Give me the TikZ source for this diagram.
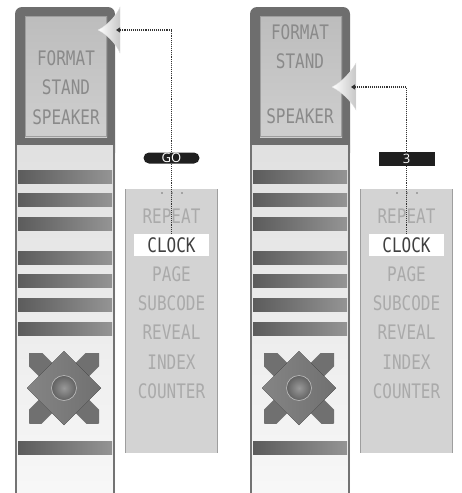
\documentclass[tikz,border=0pt]{standalone}
\usepackage{fontspec}
\usetikzlibrary{positioning, arrows.meta, calc}
\newfontfamily\lcdfont[FakeStretch=0.8]{DejaVu Sans Mono}
\newfontfamily\tagfont{Open Sans}
\definecolor{bezel}{HTML}{6E6E6E}
\definecolor{menubg}{HTML}{D3D3D3}
\definecolor{lcdtext}{HTML}{8A8A8A}
\definecolor{itemtext}{HTML}{AAAAAA}

\begin{document}
\begin{tikzpicture}[x=1pt, y=-1pt,
      lcd/.style={font=\lcdfont\fontsize{20pt}{20pt}\selectfont, text=lcdtext, inner sep=0pt, text height=15pt, text depth=0pt},
      item/.style={lcd, text=itemtext, minimum height=22pt},
      hilite/.style={fill=white, text=black!75, minimum width=75pt},
      bar/.style={left color=black!64, right color=black!42},
      callout/.style={left color=white, right color=black!22, draw=black!12, line width=0.3pt},
      link/.style={densely dotted, line width=1.1pt, black!80, -{Triangle[length=4pt, width=5pt]}},
      tag/.style={fill=black!88, text=white, font=\tagfont\fontsize{13pt}{13pt}\selectfont, inner sep=0pt, minimum width=56pt, minimum height=12pt}]
    \useasboundingbox (0,0) rectangle (462,493);
    \foreach \p/\dx in {L/0, R/235} {
      \begin{scope}[xshift=\dx]
        \fill[bezel, rounded corners=7pt] (15,7) rectangle (115,160);
        \fill[top color=black!26, bottom color=black!19] (25,16) rectangle (107,137);
        \draw[black!38, line width=0.6pt] (25.3,16.3) rectangle (106.7,136.7);
        \fill[top color=black!12, bottom color=black!3] (15,145) rectangle (115,493);
        \draw[black!55, line width=1.6pt] (15.8,145) -- (15.8,493) (114.2,145) -- (114.2,493);
        \foreach \y in {170,193,217,251,274,298,322,441}
          \fill[bar] (18,\y) rectangle (112,\y+13);
        \begin{scope}
          \clip (29,353) rectangle (99,423);
          \draw[black!56, line width=19pt] (29,353) -- (99,423) (99,353) -- (29,423);
        \end{scope}
        \fill[left color=black!48, right color=black!56] (64,351) -- (101,388) -- (64,425) -- (27,388) -- cycle;
        \shade[inner color=black!40, outer color=black!62] (64,388) circle (12.5);
        \draw[black!25, line width=0.6pt] (64,388) circle (12.5);
        \fill[menubg] (125,189) rectangle (218,453);
        \draw[black!38, line width=0.8pt] (125.4,189) -- (125.4,453) (217.6,189) -- (217.6,453);
        \foreach \d in {162,172,182}
          \fill[black!55] (\d,193) circle (0.9);
        \node[item] (repeat\p) at (171.5,216) {REPEAT};
        \node[item, hilite, below=6.7pt of repeat\p] (clock\p) {CLOCK};
        \node[item, below=6.7pt of clock\p] (page\p) {PAGE};
        \node[item, below=6.7pt of page\p] (subcode\p) {SUBCODE};
        \node[item, below=6.7pt of subcode\p] (reveal\p) {REVEAL};
        \node[item, below=6.7pt of reveal\p] (index\p) {INDEX};
        \node[item, below=6.7pt of index\p] (counter\p) {COUNTER};
      \end{scope}
    }
    \node[lcd] (formatL) at (66,58) {FORMAT};
    \node[lcd, below=14pt of formatL] (standL) {STAND};
    \node[lcd, below=14pt of standL] (speakerL) {SPEAKER};
    \node[lcd] (formatR) at (300,32) {FORMAT};
    \node[lcd, below=14pt of formatR] (standR) {STAND};
    \node[lcd, below=39pt of standR] (speakerR) {SPEAKER};
    \path[callout] (98,30) .. controls (108,25) and (116,16) .. (120,7) -- (120,53) .. controls (116,44) and (108,35) .. (98,30) -- cycle;
    \path[callout] (332,87) .. controls (342,82) and (351,72) .. (356,63) -- (356,110) .. controls (351,101) and (342,92) .. (332,87) -- cycle;
    \coordinate (tipL) at (116,30);
    \coordinate (tipR) at (351,87);
    \draw[link] (clockL.north) |- (tipL);
    \draw[link] (clockR.north) |- (tipR);
    \node[tag, rounded corners=5.5pt, minimum height=11pt] (goL) at (171.5,158) {GO};
    \node[tag, minimum height=14pt] (numR) at (406.5,159) {3};
  \end{tikzpicture}
\end{document}
